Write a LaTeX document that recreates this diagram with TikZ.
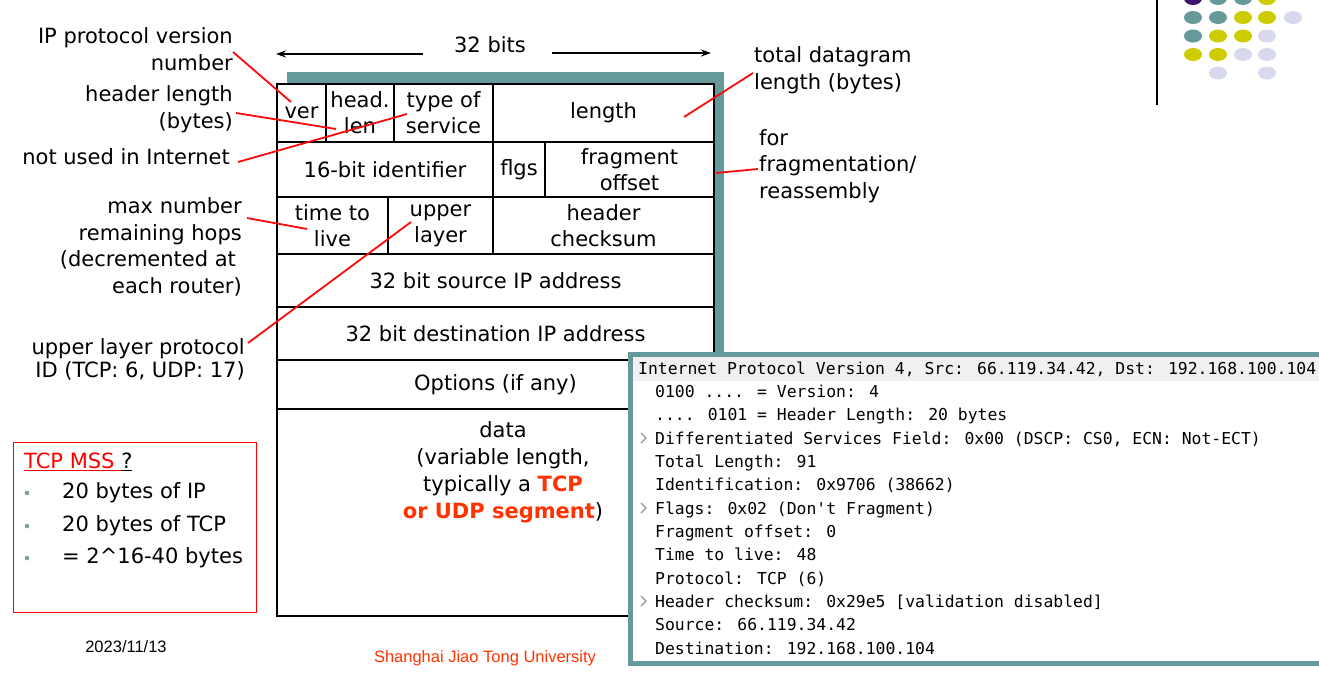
\documentclass[tikz,border=0pt]{standalone}
\usepackage{fontspec}
\setmainfont{DejaVu Sans}
\newfontfamily\wsfont{DejaVu Sans Mono}
\newfontfamily\footfont{Liberation Sans}
\usepackage{tikz}
\usetikzlibrary{arrows.meta}

\definecolor{shadowteal}{RGB}{102,153,153}
\definecolor{linered}{RGB}{250,10,10}
\definecolor{mssred}{RGB}{255,0,0}
\definecolor{tcpred}{RGB}{255,51,0}
\definecolor{headgray}{RGB}{240,240,240}
\definecolor{chevgray}{RGB}{150,150,150}
\definecolor{bulletteal}{RGB}{125,160,160}
\definecolor{dotpurple}{RGB}{64,20,110}
\definecolor{dotyellow}{RGB}{204,204,0}
\definecolor{dotlav}{RGB}{217,217,237}

\begin{document}
\begin{tikzpicture}[x=1pt, y=-1pt,
		cell_style/.style={rectangle,draw=black,fill=white,line width=2.2pt,inner sep=0pt,outer sep=0pt,align=center,font=\fontsize{21}{26}\selectfont},
		label_style/.style={inner sep=0pt,font=\fontsize{21}{26.5}\selectfont},
		edge_style/.style={draw=linered,line width=1.8pt},
		arrow_style/.style={draw=black,line width=1.8pt,-{Stealth[length=10pt,width=7pt]}},
		ws_style/.style={anchor=base west,inner sep=0pt,font=\wsfont\fontsize{16.4}{18}\selectfont}]
		
		\useasboundingbox (0,0) rectangle (1319,673);
		
		% shadow behind the header
		\fill[shadowteal] (287,72) rectangle (724,604);
		
		\node[cell_style, minimum width=49, minimum height=58] (ver) at (301.5,113) {ver};
		\node[cell_style, minimum width=68, minimum height=58] (hlen) at (360,113) {head.\\len};
		\node[cell_style, minimum width=99, minimum height=58] (tos) at (443.5,113) {type of\\service};
		\node[cell_style, minimum width=221, minimum height=58] (len) at (603.5,113) {length};
		\node[cell_style, minimum width=216, minimum height=55] (ident) at (385,169.5) {16-bit identifier};
		\node[cell_style, minimum width=52, minimum height=55] (flgs) at (519,169.5) {flgs};
		\node[cell_style, minimum width=169, minimum height=55] (frag) at (629.5,169.5) {fragment\\offset};
		\node[cell_style, minimum width=111, minimum height=57] (ttl) at (332.5,225.5) {time to\\live};
		\node[cell_style, minimum width=105, minimum height=57] (proto) at (440.5,225.5) {upper\\layer};
		\node[cell_style, minimum width=221, minimum height=57] (cksum) at (603.5,225.5) {header\\checksum};
		\node[cell_style, minimum width=437, minimum height=53] (src) at (495.5,280.5) {32 bit source IP address};
		\node[cell_style, minimum width=437, minimum height=53] (dst) at (495.5,333.5) {32 bit destination IP address};
		\node[cell_style, minimum width=437, minimum height=49] (opts) at (495.5,384.5) {Options (if any)};
		\node[cell_style, minimum width=437, minimum height=207] (data) at (495.5,512.5) {};
		\node[label_style, align=center, font=\fontsize{21}{27}\selectfont] (datatxt) at (503,472)
			{data\\(variable length,\\typically a {\color{tcpred}\bfseries TCP}\\{\color{tcpred}\bfseries or UDP segment})};
		
		% 32 bits
		\node[label_style] (bits) at (490,45) {32 bits};
		\coordinate (bits_l) at (276,54);
		\coordinate (bits_r) at (711,53);
		\draw[arrow_style] ([shift={(-31,9)}]bits.west) -- (bits_l);
		\draw[arrow_style] ([shift={(26,8)}]bits.east) -- (bits_r);
		
		% field labels
		\node[label_style, align=right, anchor=east] (l_ver) at (233,49) {IP protocol version\\number};
		\node[label_style, align=right, anchor=east] (l_hlen) at (233,109) {header length\\(bytes)};
		\node[label_style, align=right, anchor=east] (l_tos) at (230,157) {not used in Internet};
		\node[label_style, align=right, anchor=east] (l_ttl) at (242,247) {max number\\remaining hops\\(decremented at\hphantom{i}\\each router)};
		\node[label_style, align=right, anchor=east, font=\fontsize{21}{23}\selectfont] (l_proto) at (245,359) {upper layer protocol\\ID (TCP: 6, UDP: 17)};
		\node[label_style, align=left, anchor=west] (l_len) at (754,70) {total datagram\\length (bytes)};
		\node[label_style, align=left, anchor=west] (l_frag) at (759,166) {for\\fragmentation/\\reassembly};
		
		\coordinate (p_ver) at (291,102);
		\coordinate (p_hlen) at (336,129);
		\coordinate (p_tos) at (407,114);
		\coordinate (p_ttl) at (307,229);
		\coordinate (p_proto) at (411,222);
		\coordinate (p_len) at (684,117);
		\coordinate (p_frag) at (716,173);
		
		\draw[edge_style] ([shift={(0,3)}]l_ver.east) -- (p_ver);
		\draw[edge_style] ([shift={(3,4)}]l_hlen.east) -- (p_hlen);
		\draw[edge_style] ([shift={(8,5)}]l_tos.east) -- (p_tos);
		\draw[edge_style] ([shift={(5,-29)}]l_ttl.east) -- (p_ttl);
		\draw[edge_style] ([shift={(3,-16)}]l_proto.east) -- (p_proto);
		\draw[edge_style] ([shift={(-1,3)}]l_len.west) -- (p_len);
		\draw[edge_style] ([shift={(-1,3)}]l_frag.west) -- (p_frag);
		
		% TCP MSS box
		\node[draw=mssred, line width=1pt, minimum width=243, minimum height=170, inner sep=0pt] (mss) at (134.5,527) {};
		\node[label_style, anchor=west] (mss_title) at (24,462) {{\color{mssred}\underline{TCP MSS\ }}\underline{?}};
		\fill[bulletteal] (27,493) circle (2.3);
		\fill[bulletteal] (27,526) circle (2.3);
		\fill[bulletteal] (27,558) circle (2.3);
		\node[label_style, anchor=west] (mss_ip) at (62,493) {20 bytes of IP};
		\node[label_style, anchor=west] (mss_tcp) at (62,526) {20 bytes of TCP};
		\node[label_style, anchor=west] (mss_sum) at (62,558) {= 2\textasciicircum16-40 bytes};
		
		% footer
		\node[inner sep=0pt, font=\footfont\fontsize{16.5}{18}\selectfont] (date) at (126,647) {2023/11/13};
		\node[inner sep=0pt, text=tcpred, font=\footfont\fontsize{16.5}{18}\selectfont] (univ) at (485,658) {Shanghai Jiao Tong University};
		
		% wireshark capture
		\draw[draw=shadowteal, line width=5pt, fill=white] (630.5,354.5) rectangle (1340,663.5);
		\fill[headgray] (633,357) rectangle (1319,380.5);
		\node[ws_style] (w0) at (638,374) {Internet Protocol Version 4, Src: 66.119.34.42, Dst: 192.168.100.104};
		\node[ws_style] (w1) at (655,397.3) {0100 .... = Version: 4};
		\node[ws_style] (w2) at (655,420.7) {.... 0101 = Header Length: 20 bytes};
		\node[ws_style] (w3) at (655,444) {Differentiated Services Field: 0x00 (DSCP: CS0, ECN: Not-ECT)};
		\node[ws_style] (w4) at (655,467.3) {Total Length: 91};
		\node[ws_style] (w5) at (655,490.7) {Identification: 0x9706 (38662)};
		\node[ws_style] (w6) at (655,514) {Flags: 0x02 (Don't Fragment)};
		\node[ws_style] (w7) at (655,537.3) {Fragment offset: 0};
		\node[ws_style] (w8) at (655,560.7) {Time to live: 48};
		\node[ws_style] (w9) at (655,584) {Protocol: TCP (6)};
		\node[ws_style] (w10) at (655,607.3) {Header checksum: 0x29e5 [validation disabled]};
		\node[ws_style] (w11) at (655,630.7) {Source: 66.119.34.42};
		\node[ws_style] (w12) at (655,654) {Destination: 192.168.100.104};
		\draw[chevgray, line width=1.2pt] (641,433) -- (646,438) -- (641,443);
		\draw[chevgray, line width=1.2pt] (641,503) -- (646,508) -- (641,513);
		\draw[chevgray, line width=1.2pt] (641,596) -- (646,601) -- (641,606);
		
		% corner decoration
		\draw[black, line width=1.5pt] (1157,0) -- (1157,105);
		\fill[dotpurple] (1193,-1.5) ellipse (9 and 6.5);
		\fill[shadowteal] (1218,-1.5) ellipse (9 and 6.5);
		\fill[shadowteal] (1243,-1.5) ellipse (9 and 6.5);
		\fill[dotyellow] (1267,-1.5) ellipse (9 and 6.5);
		\fill[shadowteal] (1193,17.5) ellipse (9 and 6.5);
		\fill[shadowteal] (1218,17.5) ellipse (9 and 6.5);
		\fill[dotyellow] (1243,17.5) ellipse (9 and 6.5);
		\fill[dotyellow] (1267,17.5) ellipse (9 and 6.5);
		\fill[dotlav] (1293,17.5) ellipse (9 and 6.5);
		\fill[shadowteal] (1193,36) ellipse (9 and 6.5);
		\fill[dotyellow] (1218,36) ellipse (9 and 6.5);
		\fill[dotyellow] (1243,36) ellipse (9 and 6.5);
		\fill[dotlav] (1267,36) ellipse (9 and 6.5);
		\fill[dotyellow] (1193,54.5) ellipse (9 and 6.5);
		\fill[dotyellow] (1218,54.5) ellipse (9 and 6.5);
		\fill[dotlav] (1243,54.5) ellipse (9 and 6.5);
		\fill[dotlav] (1267,54.5) ellipse (9 and 6.5);
		\fill[dotlav] (1218,73) ellipse (9 and 6.5);
		\fill[dotlav] (1267,73) ellipse (9 and 6.5);
		
\end{tikzpicture}
\end{document}
